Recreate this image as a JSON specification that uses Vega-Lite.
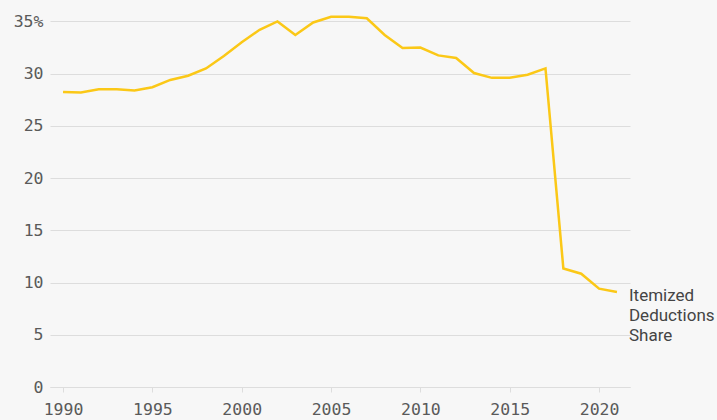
{
  "$schema": "https://vega.github.io/schema/vega-lite/v6.json",
  "autosize": {"type": "none"},
  "width": 580,
  "height": 376,
  "padding": {"left": 50, "top": 11, "right": 87, "bottom": 33},
  "background": "#f7f7f7",
  "config": {
    "view": {"stroke": null},
    "axis": {
      "labelFont": "DejaVu Sans Mono",
      "labelFontSize": 16.5,
      "labelColor": "#5a5a5a",
      "gridColor": "#dddddd",
      "domainColor": "#dddddd",
      "tickColor": "#dddddd"
    }
  },
  "data": {
    "values": [
      {"year": 1990, "share": 28.24},
      {"year": 1991, "share": 28.2},
      {"year": 1992, "share": 28.5},
      {"year": 1993, "share": 28.5},
      {"year": 1994, "share": 28.4},
      {"year": 1995, "share": 28.7},
      {"year": 1996, "share": 29.4},
      {"year": 1997, "share": 29.8},
      {"year": 1998, "share": 30.5},
      {"year": 1999, "share": 31.7},
      {"year": 2000, "share": 33.0},
      {"year": 2001, "share": 34.2},
      {"year": 2002, "share": 35.0},
      {"year": 2003, "share": 33.7},
      {"year": 2004, "share": 34.9},
      {"year": 2005, "share": 35.45},
      {"year": 2006, "share": 35.45},
      {"year": 2007, "share": 35.3},
      {"year": 2008, "share": 33.7},
      {"year": 2009, "share": 32.45},
      {"year": 2010, "share": 32.5},
      {"year": 2011, "share": 31.75},
      {"year": 2012, "share": 31.5},
      {"year": 2013, "share": 30.06},
      {"year": 2014, "share": 29.6},
      {"year": 2015, "share": 29.6},
      {"year": 2016, "share": 29.9},
      {"year": 2017, "share": 30.5},
      {"year": 2018, "share": 11.35},
      {"year": 2019, "share": 10.85},
      {"year": 2020, "share": 9.42},
      {"year": 2021, "share": 9.1}
    ]
  },
  "layer": [
    {
      "mark": {"type": "line", "color": "#fbc817", "strokeWidth": 2.5},
      "encoding": {
        "x": {
          "field": "year",
          "type": "quantitative",
          "scale": {"domain": [1989.27, 2021.73], "nice": false, "zero": false},
          "axis": {
            "title": null,
            "values": [1990, 1995, 2000, 2005, 2010, 2015, 2020],
            "format": "d",
            "grid": false,
            "tickSize": 5,
            "labelPadding": 9,
            "labelFlush": false
          }
        },
        "y": {
          "field": "share",
          "type": "quantitative",
          "scale": {"domain": [0, 36], "nice": false},
          "axis": {
            "title": null,
            "values": [0, 5, 10, 15, 20, 25, 30, 35],
            "ticks": false,
            "domain": false,
            "labelPadding": 7,
            "labelExpr": "datum.value == 35 ? '35%' : datum.label"
          }
        }
      }
    },
    {
      "transform": [{"filter": "datum.year == 2021"}],
      "mark": {
        "type": "text",
        "text": ["Itemized", "Deductions", "Share"],
        "align": "left",
        "baseline": "alphabetic",
        "dx": 12,
        "dy": 9,
        "font": "Roboto",
        "fontSize": 17,
        "lineHeight": 20,
        "color": "#444444"
      },
      "encoding": {
        "x": {"field": "year", "type": "quantitative"},
        "y": {"field": "share", "type": "quantitative"}
      }
    }
  ]
}
